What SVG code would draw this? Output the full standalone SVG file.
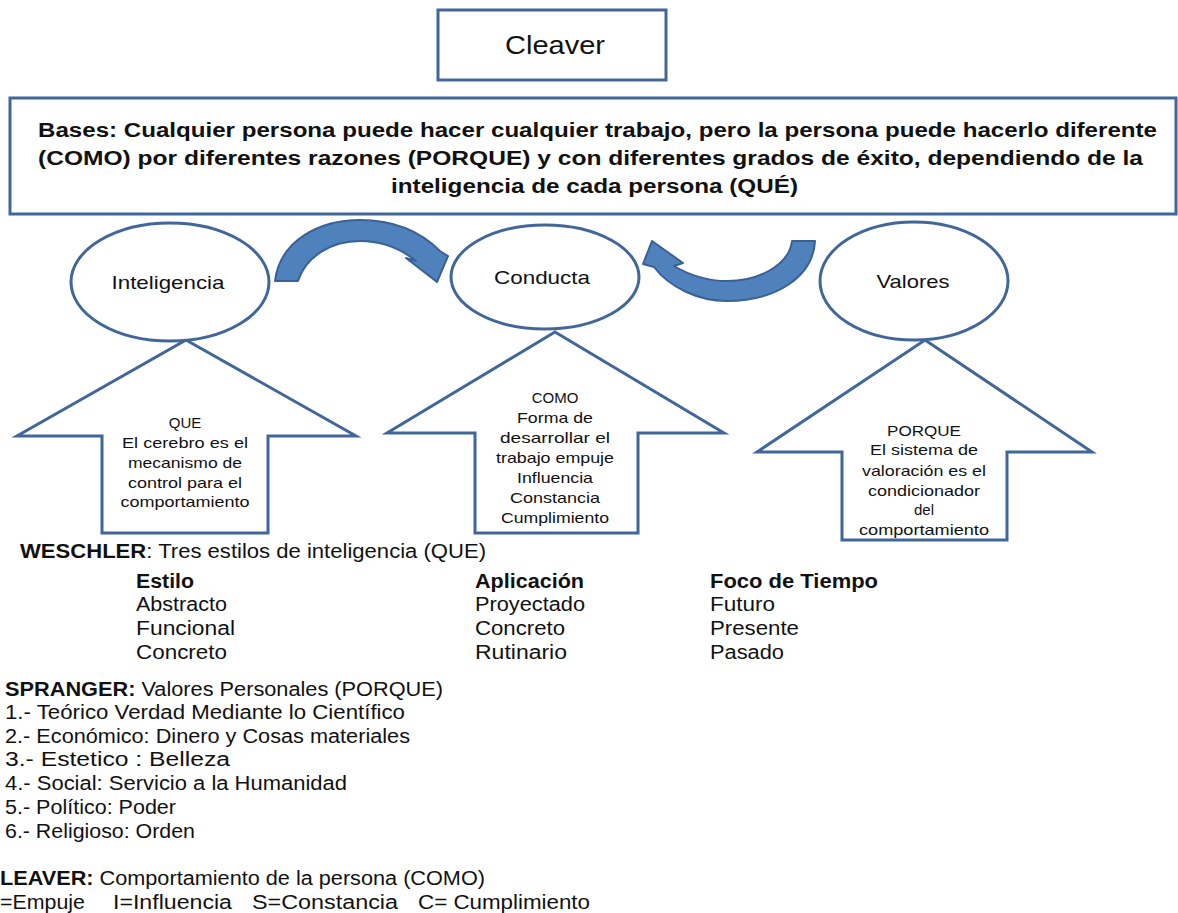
<svg xmlns="http://www.w3.org/2000/svg" width="1178" height="913" viewBox="0 0 1178 913">
<style>
.box{fill:#fff;stroke:#41679a;stroke-width:3}
.shape{fill:#fff;stroke:#41679a;stroke-width:3;stroke-linejoin:miter}
.curve{fill:#4f81bd;stroke:#3a6193;stroke-width:2;stroke-linejoin:round}
text{font-family:"Liberation Sans",Arial,sans-serif;fill:#111}
.t{font-size:20px}
.b{font-weight:bold}
.s{font-size:15px;text-anchor:middle}
.m{text-anchor:middle}
</style>
<rect width="1178" height="913" fill="#fff"/>
<g id="cleaver">
<rect class="box" x="438" y="10" width="228" height="70"/>
<text class="m" x="555" y="54" font-size="25" textLength="100" lengthAdjust="spacingAndGlyphs">Cleaver</text>
</g>
<g id="bases">
<rect class="box" x="10" y="98" width="1166" height="116"/>
<text class="b" x="38" y="137" font-size="20" textLength="1119" lengthAdjust="spacingAndGlyphs">Bases:  Cualquier persona puede hacer cualquier trabajo, pero la persona puede hacerlo diferente</text>
<text class="b" x="38" y="165" font-size="20" textLength="1105" lengthAdjust="spacingAndGlyphs">(COMO) por  diferentes razones (PORQUE) y con diferentes grados de éxito, dependiendo de la</text>
<text class="b" x="391" y="193" font-size="20" textLength="407" lengthAdjust="spacingAndGlyphs">inteligencia de cada persona (QUÉ)</text>
</g>
<g id="arrow-que">
<polygon class="shape" points="186,340 356,436 268,436 268,533 102,533 102,436 17,436"/>
<text class="s" x="185" y="428">QUE</text>
<text class="s" x="185" y="448" textLength="126" lengthAdjust="spacingAndGlyphs">El cerebro es el</text>
<text class="s" x="185" y="468" textLength="114" lengthAdjust="spacingAndGlyphs">mecanismo de</text>
<text class="s" x="185" y="488" textLength="114" lengthAdjust="spacingAndGlyphs">control para el</text>
<text class="s" x="185" y="507" textLength="129" lengthAdjust="spacingAndGlyphs">comportamiento</text>
</g>
<g id="arrow-como">
<polygon class="shape" points="555,332 724,433 638,433 638,533 475,533 475,433 387,433"/>
<text class="s" x="555" y="403">COMO</text>
<text class="s" x="555" y="423" textLength="76" lengthAdjust="spacingAndGlyphs">Forma de</text>
<text class="s" x="555" y="443" textLength="110" lengthAdjust="spacingAndGlyphs">desarrollar el</text>
<text class="s" x="555" y="463" textLength="118" lengthAdjust="spacingAndGlyphs">trabajo empuje</text>
<text class="s" x="555" y="483" textLength="76" lengthAdjust="spacingAndGlyphs">Influencia</text>
<text class="s" x="555" y="503" textLength="90" lengthAdjust="spacingAndGlyphs">Constancia</text>
<text class="s" x="555" y="523" textLength="108" lengthAdjust="spacingAndGlyphs">Cumplimiento</text>
</g>
<g id="arrow-porque">
<polygon class="shape" points="925,340 1092,452 1007,452 1007,540 842,540 842,452 757,452"/>
<text class="s" x="924" y="436" textLength="74" lengthAdjust="spacingAndGlyphs">PORQUE</text>
<text class="s" x="924" y="455" textLength="108" lengthAdjust="spacingAndGlyphs">El sistema de</text>
<text class="s" x="924" y="476" textLength="124" lengthAdjust="spacingAndGlyphs">valoración es el</text>
<text class="s" x="924" y="496" textLength="112" lengthAdjust="spacingAndGlyphs">condicionador</text>
<text class="s" x="924" y="515">del</text>
<text class="s" x="924" y="535" textLength="130" lengthAdjust="spacingAndGlyphs">comportamiento</text>
</g>
<g id="inteligencia">
<ellipse class="box" cx="170" cy="282" rx="99" ry="59"/>
<text class="m" x="168" y="289" font-size="19" textLength="113" lengthAdjust="spacingAndGlyphs">Inteligencia</text>
</g>
<g id="conducta">
<ellipse class="box" cx="545" cy="277" rx="94" ry="52"/>
<text class="m" x="542" y="284" font-size="19" textLength="96" lengthAdjust="spacingAndGlyphs">Conducta</text>
</g>
<g id="valores">
<ellipse class="box" cx="914" cy="281" rx="94" ry="59"/>
<text class="m" x="913" y="288" font-size="19" textLength="73" lengthAdjust="spacingAndGlyphs">Valores</text>
</g>
<g id="connectors">
<path class="curve" d="M275,281 C280,240 320,220 360,220 C396,220 422,233 440,251 L448,256 L437,282 L406,258 L416,261 C400,248 382,241 360,241 C332,241 306,256 298,281 Z"/>
<path class="curve" d="M792,241 L815,241 C813,277 776,301 727,301 C698,301 669,287 654,267 L643,264 L652,241 L683,263 L674,266 C691,276 708,281 727,281 C759,281 789,265 792,241 Z"/>
</g>
<g id="weschler">
<text class="t" x="20" y="558" textLength="466" lengthAdjust="spacingAndGlyphs"><tspan class="b">WESCHLER</tspan>: Tres estilos de inteligencia (QUE)</text>
<text class="t b" x="136" y="588" textLength="58" lengthAdjust="spacingAndGlyphs">Estilo</text>
<text class="t" x="136" y="611" textLength="91" lengthAdjust="spacingAndGlyphs">Abstracto</text>
<text class="t" x="136" y="635" textLength="99" lengthAdjust="spacingAndGlyphs">Funcional</text>
<text class="t" x="136" y="659" textLength="91" lengthAdjust="spacingAndGlyphs">Concreto</text>
<text class="t b" x="475" y="588" textLength="109" lengthAdjust="spacingAndGlyphs">Aplicación</text>
<text class="t" x="475" y="611" textLength="110" lengthAdjust="spacingAndGlyphs">Proyectado</text>
<text class="t" x="475" y="635" textLength="90" lengthAdjust="spacingAndGlyphs">Concreto</text>
<text class="t" x="475" y="659" textLength="92" lengthAdjust="spacingAndGlyphs">Rutinario</text>
<text class="t b" x="710" y="588" textLength="168" lengthAdjust="spacingAndGlyphs">Foco de Tiempo</text>
<text class="t" x="710" y="611" textLength="65" lengthAdjust="spacingAndGlyphs">Futuro</text>
<text class="t" x="710" y="635" textLength="89" lengthAdjust="spacingAndGlyphs">Presente</text>
<text class="t" x="710" y="659" textLength="74" lengthAdjust="spacingAndGlyphs">Pasado</text>
</g>
<g id="spranger">
<text class="t" x="5" y="696" textLength="438" lengthAdjust="spacingAndGlyphs"><tspan class="b">SPRANGER:</tspan> Valores Personales (PORQUE)</text>
<text class="t" x="5" y="719" textLength="400" lengthAdjust="spacingAndGlyphs">1.- Teórico  Verdad Mediante lo Científico</text>
<text class="t" x="5" y="743" textLength="405" lengthAdjust="spacingAndGlyphs">2.- Económico: Dinero y Cosas materiales</text>
<text class="t" x="5" y="766" textLength="225" lengthAdjust="spacingAndGlyphs">3.- Estetico :  Belleza</text>
<text class="t" x="5" y="790" textLength="342" lengthAdjust="spacingAndGlyphs">4.- Social: Servicio a la Humanidad</text>
<text class="t" x="5" y="814" textLength="171" lengthAdjust="spacingAndGlyphs">5.- Político: Poder</text>
<text class="t" x="5" y="838" textLength="190" lengthAdjust="spacingAndGlyphs">6.- Religioso: Orden</text>
</g>
<g id="leaver">
<text class="t" x="0" y="885" textLength="485" lengthAdjust="spacingAndGlyphs"><tspan class="b">LEAVER:</tspan> Comportamiento de la persona (COMO)</text>
<text class="t" x="0" y="909" textLength="85" lengthAdjust="spacingAndGlyphs">=Empuje</text>
<text class="t" x="113" y="909" textLength="119" lengthAdjust="spacingAndGlyphs">I=Influencia</text>
<text class="t" x="252" y="909" textLength="146" lengthAdjust="spacingAndGlyphs">S=Constancia</text>
<text class="t" x="418" y="909" textLength="172" lengthAdjust="spacingAndGlyphs">C= Cumplimiento</text>
</g>
</svg>
